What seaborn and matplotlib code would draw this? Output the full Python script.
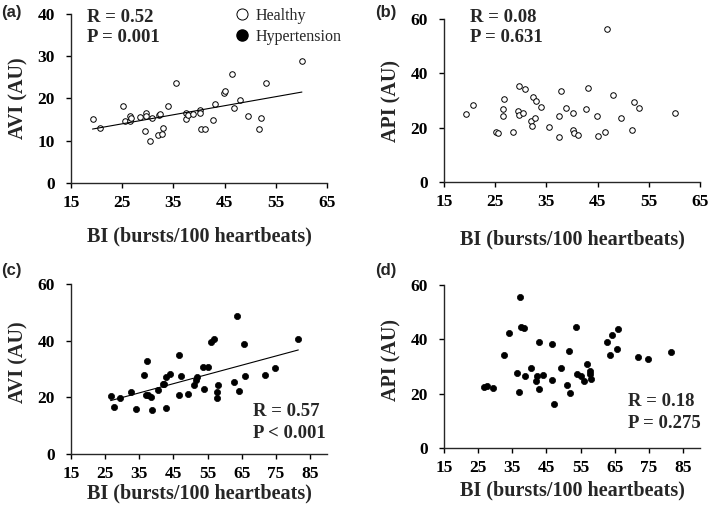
import seaborn as sns
import pandas as pd
import numpy as np
import matplotlib.pyplot as plt
from matplotlib.lines import Line2D

# Healthy group (panels a, b)
bi_healthy = [19.2, 20.7, 25.1, 25.6, 26.5, 26.6, 26.7, 28.4, 29.5, 29.6,
              29.7, 30.5, 30.8, 32.0, 32.1, 32.3, 32.8, 33.0, 34.0, 35.5,
              37.4, 37.4, 37.9, 38.9, 40.2, 40.2, 40.4, 41.1, 42.8, 43.1,
              44.8, 45.0, 46.4, 46.9, 48.1, 49.6, 51.8, 52.1, 53.0, 60.1]
avi_healthy = [15.2, 13.1, 18.3, 14.6, 14.6, 15.9, 15.4, 15.6, 12.4, 16.5,
               15.9, 10.0, 15.3, 11.3, 16.2, 16.3, 11.6, 13.1, 18.3, 23.7,
               16.5, 15.1, 16.2, 16.3, 17.3, 16.5, 12.7, 12.7, 14.9, 18.6,
               21.3, 21.7, 25.7, 17.7, 19.6, 15.9, 12.8, 15.4, 23.7, 28.8]
api_healthy = [25.0, 28.2, 18.5, 18.2, 26.9, 24.4, 30.4, 18.3, 26.0, 24.5,
               35.2, 25.3, 34.2, 22.3, 20.5, 31.4, 23.7, 29.8, 27.6, 20.2,
               24.4, 16.7, 33.6, 27.2, 25.3, 19.0, 17.9, 17.4, 26.7, 34.6,
               24.4, 17.1, 18.3, 56.3, 31.9, 23.4, 19.0, 29.6, 27.2, 25.4]

# Hypertension group (panels c, d)
bi_htn = [26.6, 27.6, 29.5, 32.7, 34.0, 36.4, 36.9, 37.3, 37.5, 38.5,
          38.6, 40.6, 41.9, 42.3, 42.7, 42.8, 44.1, 46.6, 46.7, 47.1,
          49.2, 51.0, 51.5, 52.0, 53.7, 54.0, 55.2, 56.0, 56.8, 57.7,
          57.8, 58.0, 62.8, 63.6, 64.1, 65.6, 66.0, 71.8, 74.8, 81.6]
avi_htn = [20.4, 16.6, 19.6, 21.9, 15.8, 27.8, 20.7, 32.9, 20.9, 20.0,
           15.4, 22.5, 24.8, 24.6, 27.1, 16.1, 28.4, 34.8, 20.9, 27.4,
           21.3, 24.4, 26.0, 27.2, 30.8, 23.1, 30.8, 39.5, 40.5, 21.8,
           19.6, 24.4, 25.3, 48.8, 22.2, 38.7, 27.4, 27.8, 30.5, 40.6]
api_htn = [22.3, 22.8, 22.0, 34.4, 42.4, 27.7, 20.7, 55.4, 44.5, 44.2,
           26.4, 29.3, 24.5, 26.4, 21.6, 39.2, 26.8, 25.1, 38.3, 16.1,
           29.3, 23.2, 35.8, 20.3, 44.6, 27.2, 26.6, 24.8, 30.9, 28.4,
           27.3, 25.5, 39.0, 34.4, 41.5, 36.3, 43.8, 33.6, 32.6, 35.2]

stats = {'a': ('R = 0.52', 'P = 0.001'), 'b': ('R = 0.08', 'P = 0.631'),
         'c': ('R = 0.57', 'P < 0.001'), 'd': ('R = 0.18', 'P = 0.275')}

healthy = pd.DataFrame({'BI': bi_healthy, 'AVI': avi_healthy, 'API': api_healthy})
htn = pd.DataFrame({'BI': bi_htn, 'AVI': avi_htn, 'API': api_htn})

sns.set_style('ticks')
plt.rcParams['font.family'] = ['Liberation Serif', 'DejaVu Serif']
plt.rcParams['font.weight'] = 'bold'
plt.rcParams['xtick.major.size'] = 3.5
plt.rcParams['ytick.major.size'] = 3.5
plt.rcParams['axes.linewidth'] = 1.0

fig = plt.figure(figsize=(7.09, 5.12), dpi=100)
W, H = 709, 512

def px_axes(left, top, right, bottom):
    return fig.add_axes([left / W, 1 - bottom / H, (right - left) / W, (bottom - top) / H])

ax_a = px_axes(71, 14, 327, 183)
ax_b = px_axes(444, 19, 700, 182)
ax_c = px_axes(71, 284, 327, 454)
ax_d = px_axes(444, 285, 700, 448)

open_kw = dict(s=16, facecolor='white', edgecolor='black', linewidth=0.7)
fill_kw = dict(s=20, color='black', edgecolor='black', linewidth=0.5)

sns.scatterplot(data=healthy, x='BI', y='AVI', ax=ax_a, **open_kw)
sns.regplot(data=healthy, x='BI', y='AVI', ax=ax_a, scatter=False, ci=None,
            line_kws=dict(color='black', linewidth=0.8))
sns.scatterplot(data=healthy, x='BI', y='API', ax=ax_b, **open_kw)
sns.scatterplot(data=htn, x='BI', y='AVI', ax=ax_c, **fill_kw)
sns.regplot(data=htn, x='BI', y='AVI', ax=ax_c, scatter=False, ci=None,
            line_kws=dict(color='black', linewidth=0.8))
sns.scatterplot(data=htn, x='BI', y='API', ax=ax_d, **fill_kw)

panels = [
    (ax_a, 'AVI (AU)', 40, [0, 10, 20, 30, 40], 65, range(15, 66, 10), -0.314, 0.5),
    (ax_b, 'API (AU)', 60, [0, 20, 40, 60], 65, range(15, 66, 10), -0.35, 0.5),
    (ax_c, 'AVI (AU)', 60, [0, 20, 40, 60], 90, range(15, 86, 10), -0.235, 0.54),
    (ax_d, 'API (AU)', 60, [0, 20, 40, 60], 90, range(15, 86, 10), -0.258, 0.54),
]
for ax, ylab, ylim, yticks, xlim, xticks, xl_y, yl_y in panels:
    ax.set_xlim(15, xlim)
    ax.set_ylim(0, ylim)
    ax.set_xticks(list(xticks))
    ax.set_yticks(yticks)
    ax.tick_params(labelsize=12.5, width=1.0, colors='black')
    ax.tick_params(axis='x', pad=5)
    ax.tick_params(axis='y', pad=8)
    for lab in ax.get_xticklabels() + ax.get_yticklabels():
        lab.set_fontweight('bold')
    ax.set_xlabel('BI (bursts/100 heartbeats)', fontsize=14.5, fontweight='bold')
    ax.set_ylabel(ylab, fontsize=14.5, fontweight='bold')
    ax.xaxis.set_label_coords(0.5, xl_y)
    ax.xaxis.label.set_va('center')
    ax.yaxis.set_label_coords(-0.205, yl_y)
    ax.yaxis.label.set_va('center')
    sns.despine(ax=ax)

txt = dict(fontsize=13.5, fontweight='bold', va='center', ha='left')
fig.text(87 / W, 1 - 17 / H, stats['a'][0], **txt)
fig.text(87 / W, 1 - 38 / H, stats['a'][1], **txt)
fig.text(470 / W, 1 - 17 / H, stats['b'][0], **txt)
fig.text(470 / W, 1 - 38 / H, stats['b'][1], **txt)
fig.text(253 / W, 1 - 411 / H, stats['c'][0], **txt)
fig.text(253 / W, 1 - 433 / H, stats['c'][1], **txt)
fig.text(628 / W, 1 - 402 / H, stats['d'][0], **txt)
fig.text(628 / W, 1 - 423 / H, stats['d'][1], **txt)

lab = dict(fontsize=12, fontweight='bold', family=['Liberation Sans', 'DejaVu Sans'],
           va='center', ha='left')
fig.text(1 / W, 1 - 12 / H, '(a)', **lab)
fig.text(375 / W, 1 - 12 / H, '(b)', **lab)
fig.text(1 / W, 1 - 270 / H, '(c)', **lab)
fig.text(375 / W, 1 - 270 / H, '(d)', **lab)

handles = [Line2D([], [], marker='o', linestyle='none', markersize=8,
                  markerfacecolor='white', markeredgecolor='black', markeredgewidth=0.7),
           Line2D([], [], marker='o', linestyle='none', markersize=8,
                  markerfacecolor='black', markeredgecolor='black')]
leg = fig.legend(handles, ['Healthy', 'Hypertension'], loc='upper left',
                 bbox_to_anchor=(236 / W, 1 - 8 / H), frameon=False, borderpad=0,
                 borderaxespad=0, handletextpad=0.45, handlelength=0.8,
                 labelspacing=0.3, prop=dict(size=11.5, weight='normal'))

fig.savefig('out.png', dpi=100)
